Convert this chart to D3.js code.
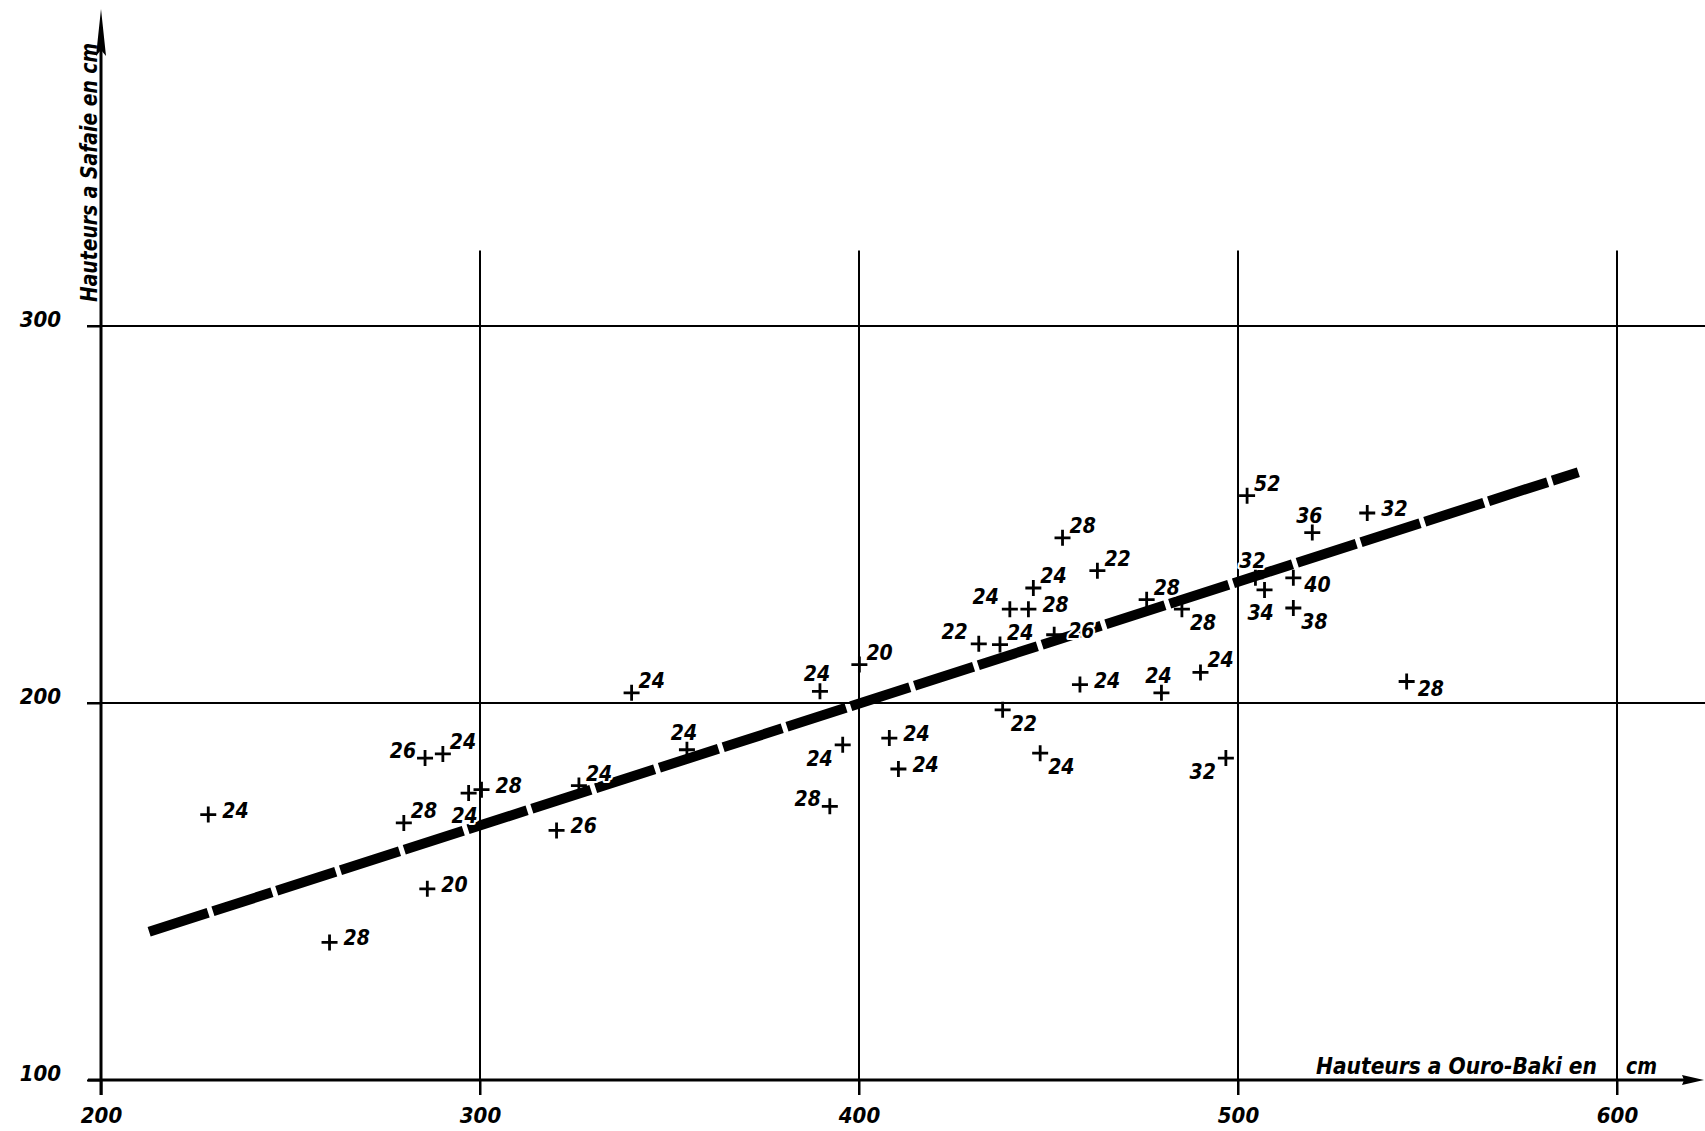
<!DOCTYPE html>
<html><head><meta charset="utf-8">
<script src="https://cdn.jsdelivr.net/npm/d3@7"></script>
<style>
body{margin:0;background:#fff;}
text{font-family:"DejaVu Sans Condensed","DejaVu Sans",sans-serif;font-weight:bold;font-style:oblique;font-stretch:condensed;fill:#000;}
text.lb{paint-order:stroke;stroke:#fff;stroke-width:4px;stroke-linejoin:round;}
</style></head><body>
<svg id="c" width="1705" height="1131"></svg>
<script>
// ---- data ----
const xTicks = [200, 300, 400, 500, 600];
const yTicks = [100, 200, 300];
const xGrid = [300, 400, 500, 600];
const yGrid = [200, 300];
const xLabel = "Hauteurs a Ouro-Baki en";
const xUnit = "cm";
const yLabel = "Hauteurs a Safaie en cm";

const ptX = [228.3,260.3,279.9,285.5,290.2,286.1,297.0,300.4,320.2,326.1,340.0,354.6,389.7,400.1,395.7,392.3,408.0,410.4,431.6,437.2,439.8,444.7,446.0,453.7,462.9,451.5,437.9,447.8,458.3,475.9,479.8,485.2,490.1,496.8,502.4,504.6,507.0,514.6,514.6,519.6,534.1,544.5];
const ptY = [170.4,136.5,168.2,185.4,186.5,150.7,176.1,177.0,166.2,178.1,202.7,187.6,203.1,210.2,188.9,172.6,190.7,182.5,215.7,215.5,224.9,224.9,230.5,243.8,235.1,218.1,198.2,186.7,204.9,227.4,202.7,224.9,208.1,185.4,255.0,233.2,230.0,233.2,225.2,245.2,250.4,205.7];
const ptLabel = ["24","28","28","26","24","20","24","28","26","24","24","24","24","20","24","28","24","24","22","24","24","28","24","28","22","26","22","24","24","28","24","28","24","32","52","32","34","40","38","36","32","28"];
const ptSide = ["r","r","ur","l","ur","r","d","r","r","ur","ur","u","u","ur","ll","l","r","r","ul","ur","ul","r","ur","ur","ur","r","lr","lr","r","ur","u","lr","ur","ll","ur","u","d","rl","lr","u","r","rl"];

const trendX = [212.7, 589.8];
const trendY = [139.3, 261.2];

// ---- drawing ----
const svg = d3.select("#c");
svg.append("rect").attr("width",1705).attr("height",1131).attr("fill","#fff");

const x = d3.scaleLinear().domain([200,600]).range([101,1617]);
const y = d3.scaleLinear().domain([100,300]).range([1080,326]);

const gridTop = 320;
// vertical grid
svg.append("g").selectAll("line").data(xGrid).join("line")
  .attr("x1",d=>x(d)).attr("x2",d=>x(d))
  .attr("y1",y(gridTop)).attr("y2",y(100)+15)
  .attr("stroke","#000").attr("stroke-width",2);
// horizontal grid
svg.append("g").selectAll("line").data(yGrid).join("line")
  .attr("x1",x(200)-14).attr("x2",1705)
  .attr("y1",d=>y(d)).attr("y2",d=>y(d))
  .attr("stroke","#000").attr("stroke-width",2);

// x axis (ticks + labels)
const gx = svg.append("g").attr("transform",`translate(0,${y(100)})`)
  .call(d3.axisBottom(x).tickValues(xTicks).tickSize(15).tickPadding(12).tickFormat(d3.format("d")));
gx.select(".domain").remove();
gx.selectAll(".tick line").attr("stroke","#000").attr("stroke-width",2);
gx.selectAll(".tick text").attr("font-size",22).attr("fill","#000")
  .style("font-family",'"DejaVu Sans Condensed","DejaVu Sans",sans-serif');

// y axis (ticks + labels)
const gy = svg.append("g").attr("transform",`translate(${x(200)},0)`)
  .call(d3.axisLeft(y).tickValues(yTicks).tickSize(14).tickPadding(26).tickFormat(d3.format("d")));
gy.select(".domain").remove();
gy.selectAll(".tick line").attr("stroke","#000").attr("stroke-width",2);
gy.selectAll(".tick text").attr("font-size",22).attr("dy","0").attr("fill","#000")
  .style("font-family",'"DejaVu Sans Condensed","DejaVu Sans",sans-serif');

// main axis lines with arrows
const ax0 = x(200), ay0 = y(100);
svg.append("line").attr("x1",ax0-13).attr("x2",1690).attr("y1",ay0).attr("y2",ay0)
  .attr("stroke","#000").attr("stroke-width",3);
svg.append("path").attr("d",`M1704,${ay0} L1682,${ay0-5} L1684,${ay0} L1682,${ay0+5} Z`).attr("fill","#000");
svg.append("line").attr("x1",ax0).attr("x2",ax0).attr("y1",ay0+15).attr("y2",40)
  .attr("stroke","#000").attr("stroke-width",3);
svg.append("path").attr("d",`M${ax0},9 L${ax0+5},56 L${ax0},50 L${ax0-5},56 Z`).attr("fill","#000");

// axis titles
svg.append("text").attr("x",1316).attr("y",1074).attr("font-size",23)
  .attr("textLength",281).attr("lengthAdjust","spacingAndGlyphs").text(xLabel);
svg.append("text").attr("x",1626).attr("y",1074).attr("font-size",23)
  .attr("textLength",31).attr("lengthAdjust","spacingAndGlyphs").text(xUnit);
svg.append("text").attr("transform","translate(97,302) rotate(-90)").attr("font-size",23)
  .attr("textLength",259).attr("lengthAdjust","spacingAndGlyphs").text(yLabel);

// trend line
const trend = trendX.map((v,i)=>[v,trendY[i]]);
svg.append("path").datum(trend)
  .attr("d",d3.line().x(d=>x(d[0])).y(d=>y(d[1])))
  .attr("fill","none").attr("stroke","#000").attr("stroke-width",10)
  .attr("stroke-dasharray","62 5");

// points
const pts = ptX.map((v,i)=>({x:v,y:ptY[i],label:ptLabel[i],side:ptSide[i]}));
const off = {
  r:  {dx:14, dy:3,  a:"start"},
  rl: {dx:11, dy:14, a:"start"},
  ur: {dx:7,  dy:-5, a:"start"},
  lr: {dx:8,  dy:21, a:"start"},
  l:  {dx:-9, dy:0,  a:"end"},
  ul: {dx:-11,dy:-5, a:"end"},
  ll: {dx:-10,dy:21, a:"end"},
  u:  {dx:-3, dy:-10,a:"middle"},
  d:  {dx:-4, dy:30, a:"middle"}
};
const g = svg.append("g");
g.selectAll("text.lb").data(pts).join("text").attr("class","lb")
  .attr("x",d=>x(d.x)+off[d.side].dx).attr("y",d=>y(d.y)+off[d.side].dy)
  .attr("text-anchor",d=>off[d.side].a).attr("font-size",21).text(d=>d.label);
g.selectAll("path.pt").data(pts).join("path").attr("class","pt")
  .attr("d",d=>`M${x(d.x)-8},${y(d.y)}H${x(d.x)+8}M${x(d.x)},${y(d.y)-8}V${y(d.y)+8}`)
  .attr("stroke","#000").attr("stroke-width",2.8).attr("fill","none");
</script>
</body></html>
